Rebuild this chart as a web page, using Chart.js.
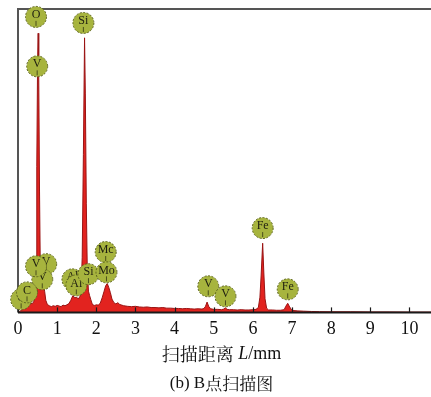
<!DOCTYPE html>
<html>
<head>
<meta charset="utf-8">
<script src="https://cdn.jsdelivr.net/npm/chart.js@4.4.1/dist/chart.umd.min.js"></script>
<style>
  html, body { margin: 0; padding: 0; background: #fff; }
  #wrap { width: 431px; height: 397px; position: relative; }
</style>
</head>
<body>
<div id="wrap"><canvas id="eds"></canvas></div>
<script>
// spectrum (x in axis units, y in % of plot height)
const energy = [
  0.00, 0.05, 0.10, 0.15, 0.20, 0.25, 0.28, 0.32, 0.36, 0.40,
  0.43, 0.46, 0.48, 0.50, 0.515, 0.53, 0.55, 0.57, 0.60, 0.63,
  0.65, 0.68, 0.71, 0.75, 0.80, 0.85, 0.90, 0.95, 1.00, 1.05,
  1.10, 1.15, 1.20, 1.25, 1.30, 1.35, 1.40, 1.45, 1.50, 1.54,
  1.58, 1.61, 1.64, 1.67, 1.70, 1.72, 1.745, 1.77, 1.80, 1.83,
  1.86, 1.89, 1.92, 1.96, 2.00, 2.05, 2.10, 2.15, 2.20, 2.24,
  2.28, 2.32, 2.36, 2.40, 2.45, 2.50, 2.55, 2.60, 2.70, 2.80,
  2.90, 3.00, 3.10, 3.20, 3.30, 3.40, 3.50, 3.60, 3.70, 3.80,
  3.90, 4.00, 4.10, 4.20, 4.30, 4.40, 4.50, 4.60, 4.70, 4.75,
  4.79, 4.83, 4.87, 4.92, 5.00, 5.10, 5.20, 5.26, 5.30, 5.34,
  5.40, 5.50, 5.60, 5.70, 5.80, 5.90, 6.00, 6.08, 6.14, 6.18,
  6.21, 6.25, 6.28, 6.31, 6.35, 6.40, 6.50, 6.60, 6.70, 6.80,
  6.84, 6.89, 6.94, 6.99, 7.05, 7.15, 7.30, 7.50, 7.70, 8.00,
  8.50, 9.00, 9.50, 10.00, 10.55
];
const counts = [
  0.0, 0.3, 1.0, 1.8, 2.8, 3.6, 3.8, 3.2, 2.8, 3.5,
  6.0, 18, 48, 82, 92, 78, 40, 14, 7.5, 8.5,
  9.5, 7, 4, 2.6, 2.2, 1.9, 2.2, 2.0, 2.3, 2.1,
  1.9, 2.4, 2.2, 2.5, 2.9, 4.0, 5.5, 4.8, 5.0, 4.4,
  5.2, 8.0, 18, 52, 90.5, 72, 36, 14, 7, 5.5,
  4.2, 3.0, 2.4, 2.3, 2.5, 2.4, 3.0, 4.8, 7.0, 8.8,
  9.5, 8.2, 6.5, 4.4, 3.2, 2.8, 3.2, 2.6, 2.2, 2.0,
  1.9, 2.0, 1.8, 1.7, 1.8, 1.6, 1.6, 1.5, 1.6, 1.4,
  1.4, 1.3, 1.3, 1.2, 1.3, 1.2, 1.1, 1.2, 1.1, 1.3,
  2.0, 3.4, 2.0, 1.2, 1.0, 1.0, 0.9, 1.1, 1.5, 1.0,
  0.9, 0.9, 0.8, 0.9, 0.8, 0.8, 0.9, 1.0, 1.6, 5.0,
  12, 22.8, 13, 4.5, 1.4, 0.8, 0.8, 0.7, 0.7, 0.9,
  2.0, 3.0, 1.8, 0.8, 0.6, 0.5, 0.4, 0.3, 0.25, 0.2,
  0.2, 0.15, 0.15, 0.1, 0.1
];

// element markers: name, x, y (same units as spectrum)
const markNames = ['V', 'V', 'C', 'C', 'O', 'V', 'Si', 'Al', 'Al', 'Si', 'Mc', 'Mo', 'V', 'V', 'Fe', 'Fe', 'V'];
const markX = [0.72, 0.62, 0.08, 0.23, 0.46, 0.49, 1.67, 1.39, 1.49, 1.80, 2.24, 2.26, 4.86, 5.30, 6.25, 6.89, 0.46];
const markY = [15.9, 10.9, 4.3, 6.6, 97.4, 81.1, 95.4, 10.9, 8.9, 12.6, 19.9, 13.2, 8.6, 5.3, 27.8, 7.6, 15.2];

const xTicks = [0, 1, 2, 3, 4, 5, 6, 7, 8, 9, 10];

const serif = '"Liberation Serif", "Times New Roman", serif';
const cjk = '"Noto Serif CJK SC", "Noto Sans CJK SC", serif';

var framePlugin = {
  id: 'frame',
  afterDraw: function (chart) {
    var ctx = chart.ctx;
    var a = chart.chartArea;
    var xs = chart.scales.x;
    ctx.save();
    // top and left border
    ctx.strokeStyle = '#555';
    ctx.lineWidth = 2;
    ctx.beginPath();
    ctx.moveTo(a.left, a.bottom);
    ctx.lineTo(a.left, a.top);
    ctx.lineTo(a.right, a.top);
    ctx.stroke();
    // bottom axis
    ctx.strokeStyle = '#1a1a1a';
    ctx.beginPath();
    ctx.moveTo(a.left, a.bottom);
    ctx.lineTo(a.right, a.bottom);
    ctx.stroke();
    // inward ticks
    ctx.lineWidth = 1.2;
    xTicks.forEach(function (t) {
      var px = Math.round(xs.getPixelForValue(t)) + 0.5;
      ctx.beginPath();
      ctx.moveTo(px, a.bottom);
      ctx.lineTo(px, a.bottom - 5);
      ctx.stroke();
    });

    // element markers
    var ys = chart.scales.y;
    for (var i = 0; i < markNames.length; i++) {
      var cx = xs.getPixelForValue(markX[i]);
      var cy = ys.getPixelForValue(markY[i]);
      ctx.beginPath();
      ctx.arc(cx, cy, 10.5, 0, Math.PI * 2);
      ctx.fillStyle = '#a7b43e';
      ctx.fill();
      ctx.setLineDash([2, 1.5]);
      ctx.strokeStyle = '#5f6620';
      ctx.lineWidth = 1;
      ctx.stroke();
      ctx.setLineDash([]);
      ctx.beginPath();
      ctx.moveTo(cx, cy + 4);
      ctx.lineTo(cx, cy + 9);
      ctx.strokeStyle = '#4a4f1c';
      ctx.stroke();
      ctx.fillStyle = '#1e1e10';
      ctx.font = '12px ' + serif;
      ctx.textAlign = 'center';
      ctx.textBaseline = 'middle';
      ctx.fillText(markNames[i], cx, cy - 2);
    }

    // axis title with italic L, and caption
    var mid = (a.left + a.right) / 2 - 3;
    var parts = [
      { t: '扫描距离 ', f: '18px ' + cjk },
      { t: 'L', f: 'italic 18px ' + serif },
      { t: '/mm', f: '18px ' + serif }
    ];
    var total = 0;
    parts.forEach(function (p) { ctx.font = p.f; p.w = ctx.measureText(p.t).width; total += p.w; });
    var x0 = mid - total / 2;
    ctx.fillStyle = '#111';
    ctx.textAlign = 'left';
    ctx.textBaseline = 'middle';
    parts.forEach(function (p) { ctx.font = p.f; ctx.fillText(p.t, x0, 354); x0 += p.w; });

    var cap = [
      { t: '(b) B', f: '17px ' + serif },
      { t: '点扫描图', f: '17px ' + cjk }
    ];
    total = 0;
    cap.forEach(function (p) { ctx.font = p.f; p.w = ctx.measureText(p.t).width; total += p.w; });
    x0 = mid - total / 2;
    cap.forEach(function (p) { ctx.font = p.f; ctx.fillText(p.t, x0, 384); x0 += p.w; });
    ctx.restore();
  }
};

var ctx = document.getElementById('eds').getContext('2d');
new Chart(ctx, {
  type: 'line',
  data: {
    datasets: [{
      data: energy.map((e, i) => ({ x: e, y: counts[i] })),
      borderColor: '#9a1414',
      borderWidth: 1,
      backgroundColor: '#e2231f',
      fill: 'origin',
      pointRadius: 0,
      tension: 0
    }]
  },
  options: {
    responsive: true,
    maintainAspectRatio: false,
    animation: false,
    layout: { padding: { left: 18, top: 9, right: 0, bottom: 51 } },
    plugins: { legend: { display: false }, tooltip: { enabled: false } },
    scales: {
      x: {
        type: 'linear',
        min: 0,
        max: 10.55,
        afterBuildTicks: function (axis) { axis.ticks = xTicks.map(v => ({ value: v })); },
        grid: { display: false, drawTicks: false },
        border: { display: false },
        ticks: { color: '#111', padding: 6, font: { family: serif, size: 18 } }
      },
      y: {
        display: false,
        min: 0,
        max: 100
      }
    }
  },
  plugins: [framePlugin]
});
</script>
</body>
</html>
